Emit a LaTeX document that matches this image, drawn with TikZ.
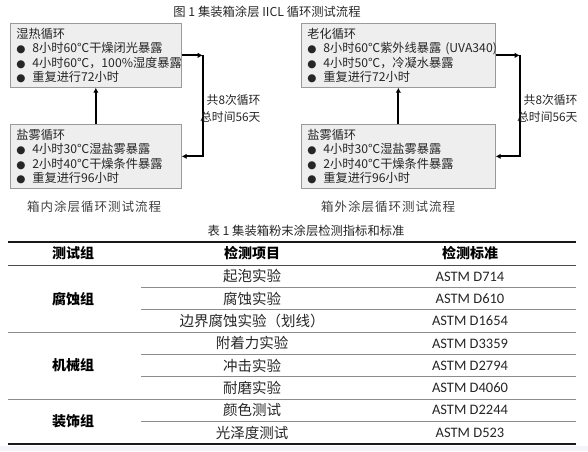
\documentclass[tikz,border=0pt]{standalone}
\usepackage{fontspec}
\setmainfont{Noto Sans CJK SC}
\newfontfamily\latinfont{Carlito}
\newfontfamily\symfont{DejaVu Sans}
\newfontfamily\capfont[LetterSpace=8]{Noto Sans CJK SC}
\usetikzlibrary{arrows.meta,positioning}

\definecolor{boxfill}{HTML}{EEEEEE}
\definecolor{boxline}{HTML}{9A9A9A}
\definecolor{rulegray}{HTML}{8C8C8C}
\definecolor{bandgray}{HTML}{F3F5F8}

\newcommand{\bul}{\makebox[16pt][l]{\symfont\fontsize{10.5}{10.5}\selectfont ●}}

\tikzset{
  cyclebox/.style={draw=boxline, fill=boxfill, line width=0.7pt, anchor=north west,
    minimum height=64pt, inner xsep=6pt, inner ysep=0pt, align=left,
    font=\fontsize{12.2}{14.5}\selectfont, text=black!85},
  flow/.style={line width=1.8pt, -{Latex[length=5pt,width=5.5pt]}},
  looplabel/.style={align=right, anchor=east, font=\fontsize{11.8}{17}\selectfont, text=black!85},
  caption/.style={font=\capfont\fontsize{12.5}{12.5}\selectfont, text=black!75},
  title/.style={font=\fontsize{12.3}{12.3}\selectfont, text=black!85},
  headcell/.style={font=\bfseries\fontsize{14}{14}\selectfont},
  itemcell/.style={font=\fontsize{14.5}{14.5}\selectfont, text=black!85},
  stdcell/.style={font=\latinfont\fontsize{14.5}{14.5}\selectfont, text=black!85},
  thickrule/.style={line width=2.2pt, black!90},
  thinrule/.style={line width=0.9pt, rulegray},
}

\begin{document}
\begin{tikzpicture}[x=1pt,y=-1pt]
  \useasboundingbox (0,0) rectangle (588,451);
  \fill[bandgray] (0,446) rectangle (588,451);

  % Figure 1
  \node[title] (figtitle) at (267,12) {图 1 集装箱涂层 IICL 循环测试流程};

  \node[cyclebox, text width=159pt] (wet) at (10,23)
    {湿热循环\\
     \bul 8小时60℃干燥闭光暴露\\
     \bul 4小时60℃，100\%湿度暴露\\
     \bul 重复进行72小时};
  \node[cyclebox, text width=159pt] (saltin) at (10,124)
    {盐雾循环\\
     \bul 4小时30℃湿盐雾暴露\\
     \bul 2小时40℃干燥条件暴露\\
     \bul 重复进行96小时};

  \node[cyclebox, text width=182pt] (age) at (301,23)
    {老化循环\\
     \bul \mbox{8小时60℃紫外线暴露 (UVA340)}\\
     \bul 4小时50℃，冷凝水暴露\\
     \bul 重复进行72小时};
  \node[cyclebox, text width=182pt] (saltout) at (301,124)
    {盐雾循环\\
     \bul 4小时30℃湿盐雾暴露\\
     \bul 2小时40℃干燥条件暴露\\
     \bul 重复进行96小时};

  % loops
  \draw[flow] (wet.east) -- ++(21,0) coordinate (wetturn);
  \draw[flow] (wetturn) |- (saltin.east);
  \draw[flow] (saltin.north) -- (wet.south);
  \node[looplabel] (loopin) at (264,108.5) {共8次循环\\总时间56天};

  \draw[flow] (age.east) -- ++(24,0) coordinate (ageturn);
  \draw[flow] (ageturn) |- (saltout.east);
  \draw[flow] (saltout.north) -- (age.south);
  \node[looplabel] (loopout) at (581,108.5) {共8次循环\\总时间56天};

  \node[caption] (capin) at (94,207) {箱内涂层循环测试流程};
  \node[caption] (capout) at (388,207) {箱外涂层循环测试流程};

  % Table 1
  \node[title] (tabtitle) at (306,231) {表 1 集装箱粉末涂层检测指标和标准};

  \draw[thickrule] (8,241.7) -- (576,241.7);
  \draw[line width=0.9pt, black!70] (8,265.3) -- (576,265.3);
  \foreach \y in {332.2,399.1}
    \draw[thinrule] (8,\y) -- (576,\y);
  \foreach \y in {287.6,309.9,354.5,376.8,421.4}
    \draw[thinrule] (141,\y) -- (576,\y);
  \draw[thickrule] (8,443.7) -- (576,443.7);

  \node[headcell] (hgroup) at (73,253.5) {测试组};
  \node[headcell] (hitem) at (252,253.5) {检测项目};
  \node[headcell] (hstd) at (470,253.5) {检测标准};

  \foreach \tname/\code [count=\i] in {起泡实验/D714, 腐蚀实验/D610,
      边界腐蚀实验（划线）/D1654, 附着力实验/D3359, 冲击实验/D2794,
      耐磨实验/D4060, 颜色测试/D2244, 光泽度测试/D523} {
    \node[itemcell] (item\i) at (252,{265.3+(\i-0.5)*22.3}) {\tname};
    \node[stdcell] (std\i) at (470,{265.3+(\i-0.5)*22.3}) {ASTM \code};
  }

  \node[headcell] (gcorr) at (73,298.8) {腐蚀组};
  \node[headcell] (gmech) at (73,365.6) {机械组};
  \node[headcell] (gdeco) at (73,421.4) {装饰组};
\end{tikzpicture}
\end{document}
